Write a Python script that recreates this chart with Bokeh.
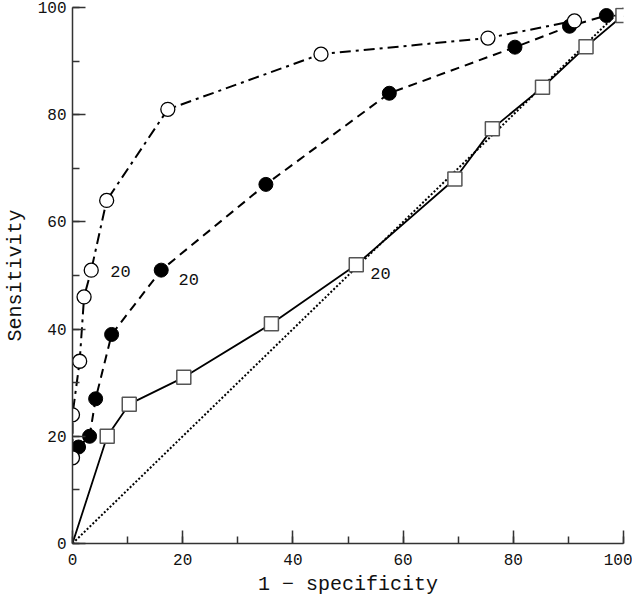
from bokeh.plotting import figure
from bokeh.models import SingleIntervalTicker, Range1d
from bokeh.core.properties import value
from bokeh.embed import file_html
from bokeh.resources import INLINE

# Open circles (dash-dot)
open_x = [0, 0, 1.3, 2.1, 3.4, 6.2, 17.3, 45.1, 75.4, 91.1]
open_y = [16, 24, 34, 46, 51, 64, 81, 91.3, 94.3, 97.5]

# Filled circles (dashed)
fill_x = [1.1, 3.1, 4.2, 7.1, 16.1, 35.1, 57.5, 80.3, 90.2, 96.9]
fill_y = [18, 20, 27, 39, 51, 67, 84, 92.6, 96.5, 98.5]

# Squares (solid), line starts at origin
sq_line_x = [0, 6.3, 10.3, 20.2, 36.1, 51.5, 69.4, 76.2, 85.3, 93.2, 99.9]
sq_line_y = [0, 20, 26, 31, 41, 52, 68, 77.4, 85.1, 92.7, 98.5]

# Chance diagonal
diag_x = [0, 100]
diag_y = [0, 100]

# "20" annotations
lab_x = [8.7, 21.1, 55.9]
lab_y = [50.7, 49.3, 50.4]
lab_t = ["20", "20", "20"]

FONT = "Liberation Mono"

p = figure(width=632, height=599, output_backend="svg", toolbar_location=None,
           x_range=Range1d(0, 100), y_range=Range1d(0, 100),
           min_border_left=71, min_border_right=9, min_border_top=7, min_border_bottom=56)
p.outline_line_color = None
p.xgrid.visible = False
p.ygrid.visible = False
p.background_fill_color = "white"

for ax in (p.xaxis[0], p.yaxis[0]):
    ax.ticker = SingleIntervalTicker(interval=20, num_minor_ticks=2)
    ax.major_tick_in = 13
    ax.major_tick_out = 0
    ax.minor_tick_in = 7
    ax.minor_tick_out = 0
    ax.axis_line_color = "#333333"
    ax.axis_line_width = 1.5
    ax.major_tick_line_color = "#333333"
    ax.minor_tick_line_color = "#333333"
    ax.major_tick_line_width = 1.5
    ax.minor_tick_line_width = 1.5
    ax.major_label_text_font = FONT
    ax.major_label_text_font_size = "16px"
    ax.major_label_text_color = "#111111"
    ax.axis_label_text_font = FONT
    ax.axis_label_text_font_size = "20px"
    ax.axis_label_text_font_style = "normal"
    ax.axis_label_text_color = "#111111"

p.xaxis.axis_label = "1 \u2212 specificity"
p.yaxis.axis_label = "Sensitivity"
p.xaxis.major_label_standoff = 10
p.xaxis.axis_label_standoff = 5
p.yaxis.major_label_standoff = 6
p.yaxis.axis_label_standoff = 8

# diagonal
p.line(diag_x, diag_y, line_color="black", line_width=2, line_dash="2 2")
# squares
p.line(sq_line_x, sq_line_y, line_color="black", line_width=1.8)
p.scatter(sq_line_x[1:], sq_line_y[1:], marker="square", size=14,
          fill_color="white", line_color="#555555", line_width=1.5)
# filled circles
p.line(fill_x, fill_y, line_color="black", line_width=2, line_dash="9 6")
p.scatter(fill_x, fill_y, marker="circle", size=14, fill_color="black", line_color="black")
# open circles
p.line(open_x, open_y, line_color="black", line_width=2, line_dash="11 5 3 5")
p.scatter(open_x, open_y, marker="circle", size=14, fill_color="white",
          line_color="black", line_width=1.3)

p.text(lab_x, lab_y, text=lab_t, text_font=value(FONT), text_font_size="17px",
       text_align="center", text_baseline="middle", text_color="#111111")

open("out.html", "w").write(file_html(p, INLINE))
